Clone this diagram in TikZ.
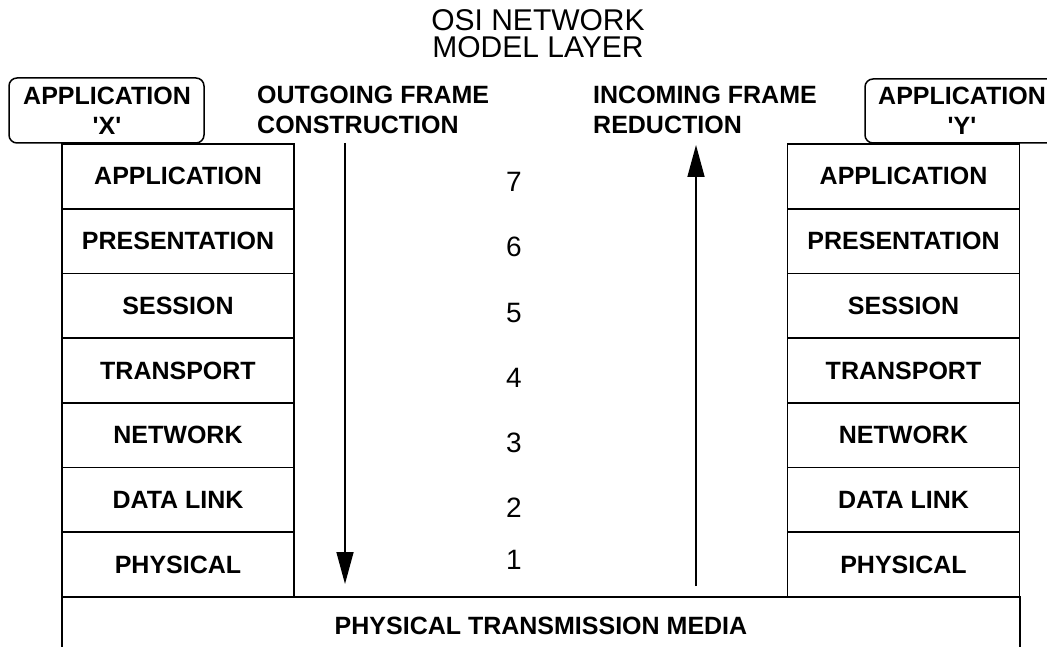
\documentclass[tikz,border=0pt]{standalone}
\usepackage{fontspec}
\setmainfont{Liberation Sans}
\usetikzlibrary{arrows.meta}
\tikzset{
  layerbox/.style={draw, line width=1.8pt, minimum width=232pt, minimum height=64.7pt, inner sep=0pt,
    font=\fontsize{25}{28}\selectfont\bfseries},
  lbl/.style={anchor=base, inner sep=0pt, font=\fontsize{25}{28}\selectfont\bfseries},
  numlbl/.style={anchor=base, inner sep=0pt, font=\fontsize{28}{32}\selectfont},
  titlelbl/.style={anchor=north, inner sep=0pt, align=center, font=\fontsize{30}{27}\selectfont},
  appbox/.style={draw, line width=1.5pt, rounded corners=8pt},
  flowarrow/.style={line width=1.6pt, -{Triangle[length=32pt, width=17pt]}}
}
\begin{document}
\begin{tikzpicture}[x=1pt, y=-1pt]
\useasboundingbox (0,0) rectangle (1047,647);
% title
\node[titlelbl] (title) at (538,9.5) {OSI NETWORK\\MODEL LAYER};
% application boxes
\draw[appbox] (9,78) rectangle (204,143);
\node[lbl] (ax1) at (107,105) {APPLICATION};
\node[lbl] (ax2) at (107,135) {\textquotesingle X\textquotesingle};
\draw[appbox] (865,79) rectangle (1075,143);
\node[lbl] (ay1) at (962,105) {APPLICATION};
\node[lbl] (ay2) at (962,135) {\textquotesingle Y\textquotesingle};
% direction labels
\node[lbl, anchor=base west] (o1) at (257,104) {OUTGOING FRAME};
\node[lbl, anchor=base west] (o2) at (257,134) {CONSTRUCTION};
\node[lbl, anchor=base west] (i1) at (593,104) {INCOMING FRAME};
\node[lbl, anchor=base west] (i2) at (593,134) {REDUCTION};
% stacks
\foreach \t [count=\i] in {APPLICATION,PRESENTATION,SESSION,TRANSPORT,NETWORK,DATA LINK,PHYSICAL}{
  \node[layerbox] (X\i) at (178,{144+64.7*(\i-0.5)}) {\t};
  \node[layerbox] (Y\i) at (903.5,{144+64.7*(\i-0.5)}) {\t};
}
% layer numbers
\node[numlbl] (n7) at (514,192) {7};
\node[numlbl] (n6) at (514,257) {6};
\node[numlbl] (n5) at (514,322) {5};
\node[numlbl] (n4) at (514,387) {4};
\node[numlbl] (n3) at (514,452) {3};
\node[numlbl] (n2) at (514,517) {2};
\node[numlbl] (n1) at (514,569) {1};
% transmission media
\draw[line width=2.2pt] (62,660) -- (62,597) -- (1020,597) -- (1020,660);
\node[lbl] (media) at (541,634) {PHYSICAL TRANSMISSION MEDIA};
% arrows
\coordinate (dtop) at (345,143);
\coordinate (dbot) at (345,584);
\coordinate (ubot) at (696,586);
\coordinate (utop) at (696,145);
\draw[flowarrow] (dtop) -- (dbot);
\draw[flowarrow] (ubot) -- (utop);
\end{tikzpicture}
\end{document}
